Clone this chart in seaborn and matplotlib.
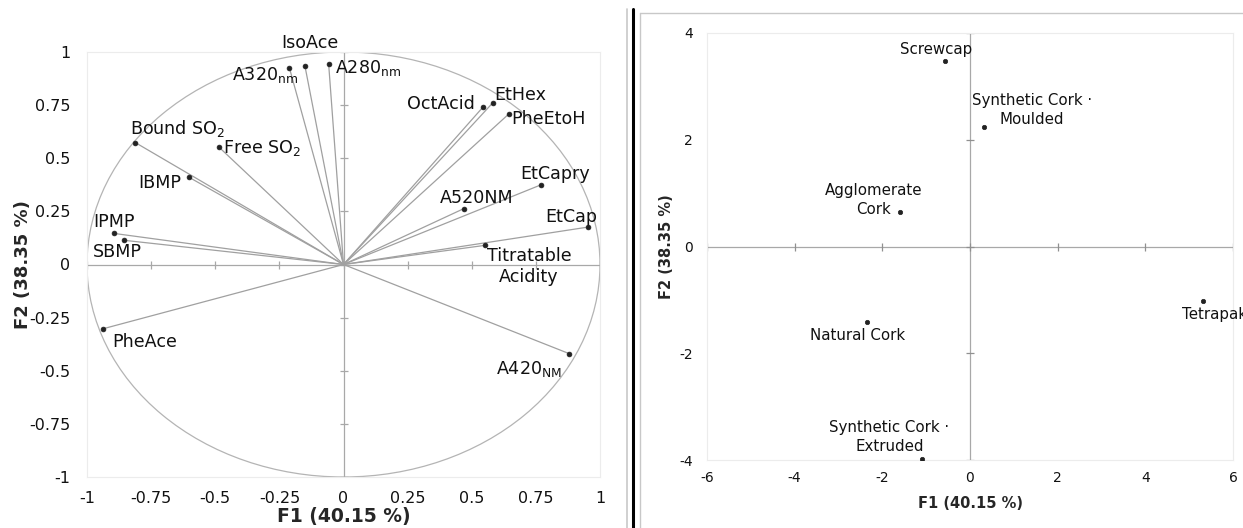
import numpy as np
import pandas as pd
import matplotlib
matplotlib.use("Agg")
import matplotlib.pyplot as plt
import seaborn as sns
from matplotlib.patches import Circle
from matplotlib.lines import Line2D

# Correlation circle: variable loadings on F1 / F2
var_names = ["A320nm", "IsoAce", "A280nm", "OctAcid", "EtHex", "PheEtoH",
             "Bound SO2", "Free SO2", "IBMP", "EtCapry", "A520NM", "EtCap",
             "IPMP", "SBMP", "Titratable Acidity", "PheAce", "A420NM"]
f1_load = [-0.211, -0.150, -0.058, 0.544, 0.582, 0.645,
           -0.812, -0.487, -0.603, 0.770, 0.469, 0.953,
           -0.893, -0.856, 0.551, -0.936, 0.881]
f2_load = [0.926, 0.932, 0.945, 0.741, 0.761, 0.709,
           0.574, 0.554, 0.411, 0.375, 0.263, 0.176,
           0.146, 0.114, 0.090, -0.302, -0.420]

# Observations: closure types on F1 / F2
closures = ["Screwcap", "Synthetic Cork - Moulded", "Agglomerate Cork",
            "Natural Cork", "Tetrapak", "Synthetic Cork - Extruded"]
f1_score = [-0.56, 0.31, -1.60, -2.35, 5.31, -1.10]
f2_score = [3.48, 2.24, 0.64, -1.41, -1.02, -3.98]

circle_ticks = [-1, -0.75, -0.5, -0.25, 0, 0.25, 0.5, 0.75, 1]
circle_ticklabels = ["-1", "-0.75", "-0.5", "-0.25", "0", "0.25", "0.5", "0.75", "1"]
obs_xticks = [-6, -4, -2, 0, 2, 4, 6]
obs_yticks = [-4, -2, 0, 2, 4]

x_title = "F1 (40.15 %)"
y_title = "F2 (38.35 %)"

loadings = pd.DataFrame({"var": var_names, "F1": f1_load, "F2": f2_load})
scores = pd.DataFrame({"obs": closures, "F1": f1_score, "F2": f2_score})

# label text and placement (x, y, ha) for the loadings
var_text = {
    "A320nm": ("A320$_{\\mathregular{nm}}$", -0.178, 0.894, "right"),
    "IsoAce": ("IsoAce", -0.13, 1.04, "center"),
    "A280nm": ("A280$_{\\mathregular{nm}}$", -0.032, 0.926, "left"),
    "OctAcid": ("OctAcid", 0.511, 0.756, "right"),
    "EtHex": ("EtHex", 0.588, 0.796, "left"),
    "PheEtoH": ("PheEtoH", 0.655, 0.684, "left"),
    "Bound SO2": ("Bound SO$_{\\mathregular{2}}$", -0.832, 0.641, "left"),
    "Free SO2": ("Free SO$_{\\mathregular{2}}$", -0.469, 0.549, "left"),
    "IBMP": ("IBMP", -0.632, 0.384, "right"),
    "EtCapry": ("EtCapry", 0.691, 0.424, "left"),
    "A520NM": ("A520NM", 0.377, 0.313, "left"),
    "EtCap": ("EtCap", 0.787, 0.222, "left"),
    "IPMP": ("IPMP", -0.974, 0.198, "left"),
    "SBMP": ("SBMP", -0.977, 0.060, "left"),
    "Titratable Acidity": ("Titratable\nAcidity", 0.723, -0.01, "center"),
    "PheAce": ("PheAce", -0.900, -0.364, "left"),
    "A420NM": ("A420$_{\\mathregular{NM}}$", 0.593, -0.494, "left"),
}
obs_text = {
    "Screwcap": ("Screwcap", -0.78, 3.70, "center"),
    "Synthetic Cork - Moulded": ("Synthetic Cork \u00b7\nMoulded", 1.41, 2.56, "center"),
    "Agglomerate Cork": ("Agglomerate\nCork", -2.21, 0.87, "center"),
    "Natural Cork": ("Natural Cork", -2.56, -1.66, "center"),
    "Tetrapak": ("Tetrapak", 4.83, -1.27, "left"),
    "Synthetic Cork - Extruded": ("Synthetic Cork \u00b7\nExtruded", -1.84, -3.57, "center"),
}

sns.set_style("white")
plt.rcParams["font.family"] = ["DejaVu Sans"]
plt.rcParams["axes.unicode_minus"] = False

W, H = 1243, 528
fig = plt.figure(figsize=(W / 100, H / 100), dpi=100)

line_col = "#a8a8a8"
frame_col = "#ececec"

### Left panel - correlation circle
ax1 = fig.add_axes([87 / W, 1 - 477 / H, 513 / W, 425 / H])
ax1.set_xlim(-1, 1)
ax1.set_ylim(-1, 1)
ax1.add_patch(Circle((0, 0), 1, fill=False, ec="#b4b4b4", lw=0.9))
ax1.axhline(0, color=line_col, lw=0.9)
ax1.axvline(0, color=line_col, lw=0.9)
for t in circle_ticks:
    ax1.plot(t, 0, marker="|", ms=6, color=line_col, mew=0.9)
    ax1.plot(0, t, marker="_", ms=6, color=line_col, mew=0.9)
for _, r in loadings.iterrows():
    ax1.plot([0, r["F1"]], [0, r["F2"]], color="#a0a0a0", lw=0.9)
sns.scatterplot(data=loadings, x="F1", y="F2", ax=ax1, color="#222222",
                s=12, edgecolor="#222222", linewidth=0.5, zorder=5, legend=False)
for _, r in loadings.iterrows():
    txt, tx, ty, ha = var_text[r["var"]]
    ax1.text(tx, ty, txt, ha=ha, va="center", fontsize=12.6, color="#111111",
             multialignment="center", linespacing=1.2)
ax1.set_xticks(circle_ticks)
ax1.set_xticklabels(circle_ticklabels)
ax1.set_yticks(circle_ticks)
ax1.set_yticklabels(circle_ticklabels)
ax1.tick_params(length=0, labelsize=11.5, colors="#111111")
ax1.tick_params(axis="y", pad=12)
ax1.tick_params(axis="x", pad=10)
ax1.set_xlabel(x_title, fontsize=13.5, fontweight="bold", labelpad=1)
ax1.set_ylabel(y_title, fontsize=13, fontweight="bold", labelpad=-2)
for sp in ax1.spines.values():
    sp.set_color(frame_col)
    sp.set_linewidth(0.8)

### Right panel - observations
ax2 = fig.add_axes([707 / W, 1 - 460 / H, 526 / W, 427 / H])
ax2.set_xlim(-6, 6)
ax2.set_ylim(-4, 4)
ax2.axhline(0, color=line_col, lw=0.9)
ax2.axvline(0, color=line_col, lw=0.9)
for t in obs_xticks:
    ax2.plot(t, 0, marker="|", ms=6, color="#909090", mew=0.9)
for t in obs_yticks:
    ax2.plot(0, t, marker="_", ms=6, color="#909090", mew=0.9)
sns.scatterplot(data=scores, x="F1", y="F2", ax=ax2, color="#222222",
                s=10, edgecolor="#222222", linewidth=0.5, zorder=5, legend=False)
for _, r in scores.iterrows():
    txt, tx, ty, ha = obs_text[r["obs"]]
    ax2.text(tx, ty, txt, ha=ha, va="center", fontsize=10.8, color="#111111",
             multialignment="center", linespacing=1.3, clip_on=False)
ax2.set_xticks(obs_xticks)
ax2.set_yticks(obs_yticks)
ax2.tick_params(length=0, labelsize=10, colors="#111111")
ax2.tick_params(axis="y", pad=10)
ax2.tick_params(axis="x", pad=8)
ax2.set_xlabel(x_title, fontsize=10.5, fontweight="bold", labelpad=8)
ax2.set_ylabel(y_title, fontsize=10.5, fontweight="bold", labelpad=4)
for sp in ax2.spines.values():
    sp.set_color(frame_col)
    sp.set_linewidth(0.8)

# separator and outer frame of the right panel
fig.add_artist(Line2D([627 / W, 627 / W], [0, 1 - 9 / H], color="#c8c8c8", lw=1.2))
fig.add_artist(Line2D([633 / W, 633 / W], [0, 1 - 9 / H], color="black", lw=2.2))
fig.add_artist(Line2D([640 / W, 640 / W], [0, 1 - 13 / H], color="#c8c8c8", lw=1.0))
fig.add_artist(Line2D([640 / W, 1], [1 - 13 / H, 1 - 13 / H], color="#c8c8c8", lw=1.0))

fig.savefig("out.png", dpi=100)
